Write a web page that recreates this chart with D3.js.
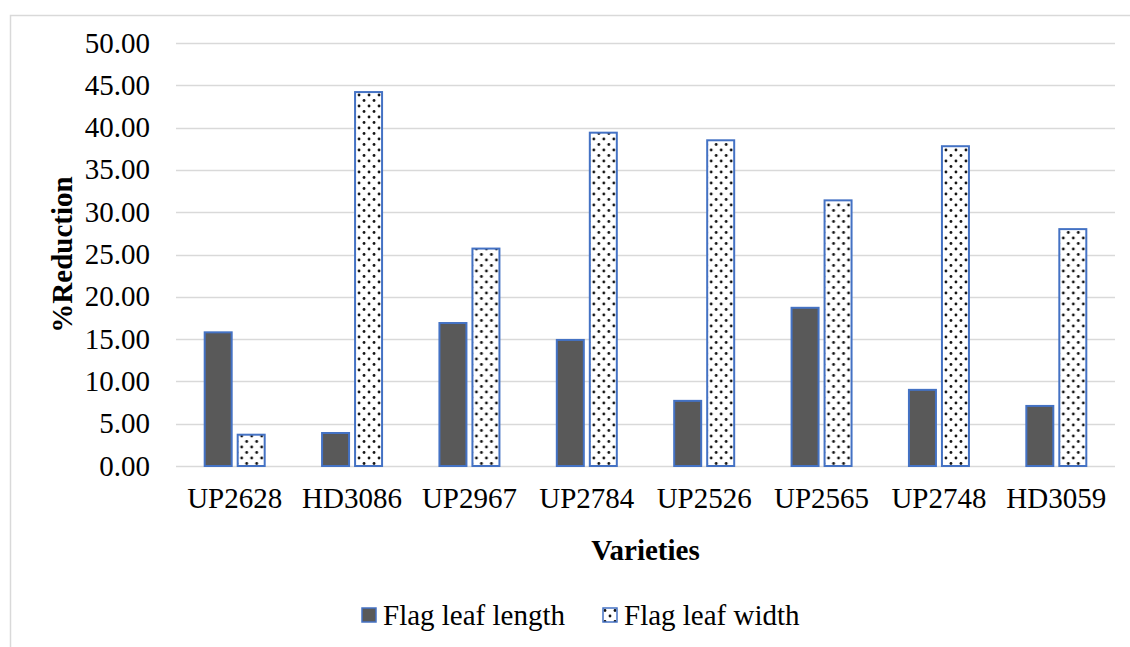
<!DOCTYPE html>
<html>
<head>
<meta charset="utf-8">
<script src="https://cdn.jsdelivr.net/npm/d3@7"></script>
<style>
  html, body { margin: 0; padding: 0; background: #fff; }
</style>
</head>
<body>
<div id="chart"></div>
<script>
// chart data
const varieties = ["UP2628", "HD3086", "UP2967", "UP2784", "UP2526", "UP2565", "UP2748", "HD3059"];
const seriesNames = ["Flag leaf length", "Flag leaf width"];
const leafLength = [15.8, 3.9, 16.9, 14.9, 7.7, 18.7, 9.0, 7.1];
const leafWidth = [3.7, 44.2, 25.7, 39.4, 38.5, 31.4, 37.8, 28.0];
const yTicks = [0, 5, 10, 15, 20, 25, 30, 35, 40, 45, 50];

const FONT = "Liberation Serif";
const FS = 29;

const W = 1130, H = 647;
const margin = { top: 43, right: 15, bottom: 181, left: 176 };
const width = W - margin.left - margin.right;
const height = H - margin.top - margin.bottom;

const svg = d3.select("#chart").append("svg")
    .attr("width", W)
    .attr("height", H);

// dotted fill pattern
const defs = svg.append("defs");
const pat = defs.append("pattern")
    .attr("id", "dots")
    .attr("patternUnits", "userSpaceOnUse")
    .attr("width", 10)
    .attr("height", 11);
pat.append("rect").attr("width", 10).attr("height", 11).attr("fill", "#fff");
pat.append("circle").attr("cx", 2).attr("cy", 2.5).attr("r", 1.4).attr("fill", "#111");
pat.append("circle").attr("cx", 7).attr("cy", 8).attr("r", 1.4).attr("fill", "#111");

// chart frame
svg.append("path")
    .attr("d", `M10.5,${H} V15.5 H${W}`)
    .attr("fill", "none")
    .attr("stroke", "#d9d9d9")
    .attr("stroke-width", 1.5);

const g = svg.append("g")
    .attr("transform", `translate(${margin.left},${margin.top})`);

const x = d3.scaleBand().domain(varieties).range([0, width]);
const y = d3.scaleLinear().domain([0, 50]).range([height, 0]);

const barW = 27;
const gap = 6;

// gridlines
g.append("g").selectAll("line")
    .data(yTicks)
    .join("line")
    .attr("x1", 0)
    .attr("x2", width)
    .attr("y1", d => Math.round(y(d)) + 0.5)
    .attr("y2", d => Math.round(y(d)) + 0.5)
    .attr("stroke", "#d9d9d9")
    .attr("stroke-width", 1.5);

function label(sel) {
    return sel.attr("font-family", FONT)
        .attr("font-size", FS)
        .attr("fill", "#000");
}

// y axis labels
g.append("g").selectAll("text")
    .data(yTicks)
    .join("text")
    .call(label)
    .attr("x", -26)
    .attr("y", d => y(d))
    .attr("dy", "0.33em")
    .attr("text-anchor", "end")
    .text(d => d.toFixed(2));

// bars
const groups = g.append("g").selectAll("g")
    .data(varieties)
    .join("g")
    .attr("transform", d => `translate(${x(d) + x.bandwidth() / 2},0)`);

groups.append("rect")
    .attr("x", -gap / 2 - barW)
    .attr("y", (d, i) => y(leafLength[i]))
    .attr("width", barW)
    .attr("height", (d, i) => height - y(leafLength[i]))
    .attr("fill", "#595959")
    .attr("stroke", "#4472c4")
    .attr("stroke-width", 2);

groups.append("rect")
    .attr("x", gap / 2)
    .attr("y", (d, i) => y(leafWidth[i]))
    .attr("width", barW)
    .attr("height", (d, i) => height - y(leafWidth[i]))
    .attr("fill", "url(#dots)")
    .attr("stroke", "#4472c4")
    .attr("stroke-width", 2);

// x labels
g.append("g").selectAll("text")
    .data(varieties)
    .join("text")
    .call(label)
    .attr("x", d => x(d) + x.bandwidth() / 2)
    .attr("y", 508 - margin.top)
    .attr("text-anchor", "middle")
    .text(d => d);

// axis titles
svg.append("text")
    .call(label)
    .attr("x", margin.left + width / 2)
    .attr("y", 560)
    .attr("text-anchor", "middle")
    .attr("font-weight", "bold")
    .text("Varieties");

svg.append("text")
    .call(label)
    .attr("transform", `translate(72,${margin.top + height / 2}) rotate(-90)`)
    .attr("text-anchor", "middle")
    .attr("font-weight", "bold")
    .text("%Reduction");

// legend
const legendFill = ["#595959", "url(#dots)"];
const legendX = [362, 603];
const legend = svg.append("g").selectAll("g")
    .data(seriesNames)
    .join("g")
    .attr("transform", (d, i) => `translate(${legendX[i]},608)`);

legend.append("rect")
    .attr("width", 14)
    .attr("height", 14)
    .attr("fill", (d, i) => legendFill[i])
    .attr("stroke", "#4472c4")
    .attr("stroke-width", 1.5);

legend.append("text")
    .call(label)
    .attr("x", 21)
    .attr("y", 7)
    .attr("dy", "0.33em")
    .text(d => d);
</script>
</body>
</html>
